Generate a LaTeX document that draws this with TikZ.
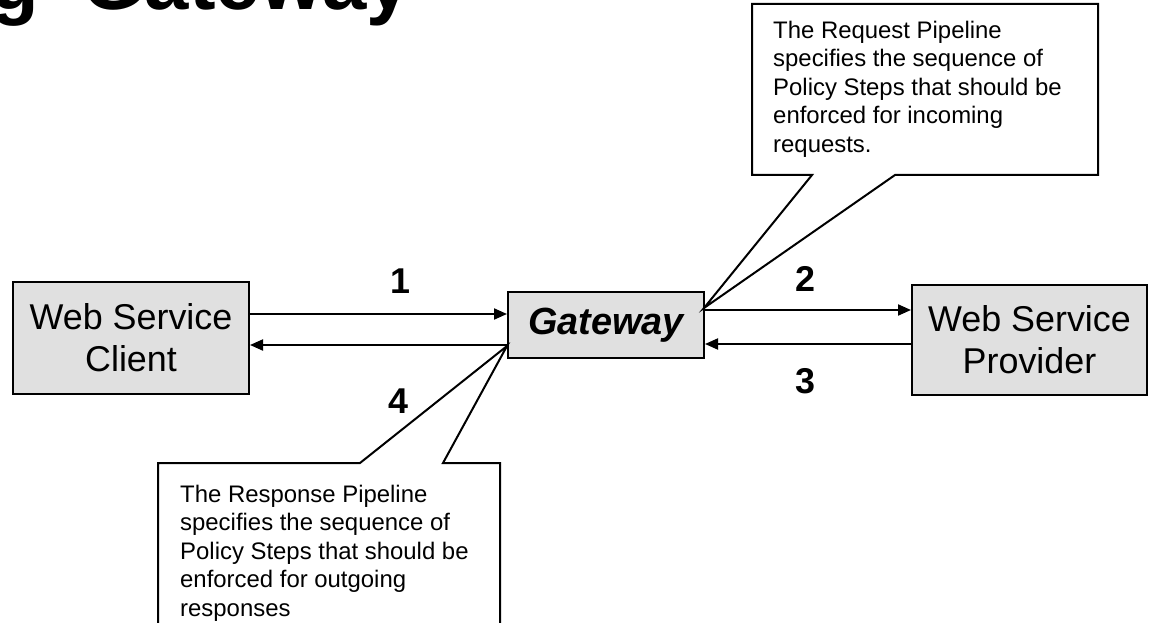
\documentclass[tikz,border=0pt]{standalone}
\usepackage{fontspec}
\setmainfont{Liberation Sans}
\usetikzlibrary{arrows.meta}
\definecolor{boxgray}{RGB}{224,224,224}
\newcommand\headingfont{\fontsize{80}{96}\selectfont\bfseries\spaceskip=44bp\relax}
\begin{document}
\begin{tikzpicture}[x=1bp,y=-1bp,
  box/.style={draw=black, line width=2bp, fill=boxgray, inner sep=0, align=center},
  boxtext/.style={font=\fontsize{36}{42}\selectfont},
  flow/.style={line width=2bp, -{Triangle[length=13bp,width=11bp]}},
  stepno/.style={font=\fontsize{36}{42}\selectfont\bfseries, inner sep=0},
  balloon/.style={draw=black, line width=2bp, fill=white, line join=miter},
  note/.style={font=\fontsize{24}{28.5}\selectfont, align=left, inner sep=0, anchor=north west}]
\useasboundingbox (0,0) rectangle (1149,623);

% heading
\node[font=\headingfont, inner sep=0, anchor=base west] (title) at (-10,10) {g Gateway};

% main boxes
\node[box, boxtext, minimum width=236bp, minimum height=112bp] (client) at (131,338) {Web Service\\Client};
\node[box, minimum width=196bp, minimum height=66bp, font=\fontsize{38}{44}\selectfont\bfseries\itshape] (gateway) at (606,325) {Gateway};
\node[box, boxtext, minimum width=235bp, minimum height=110bp] (provider) at (1029.5,340) {Web Service\\Provider};

% message flows
\coordinate (lane1) at (0,314);
\coordinate (lane4) at (0,345);
\coordinate (lane2) at (0,310);
\coordinate (lane3) at (0,344);
\draw[flow] (client.east |- lane1) -- (gateway.west |- lane1);
\draw[flow] (gateway.west |- lane4) -- (client.east |- lane4);
\draw[flow] (gateway.east |- lane2) -- (provider.west |- lane2);
\draw[flow] (provider.west |- lane3) -- (gateway.east |- lane3);

\node[stepno] (n1) at (400,281) {1};
\node[stepno] (n2) at (805,279) {2};
\node[stepno] (n3) at (805,381) {3};
\node[stepno] (n4) at (398,401) {4};

% request pipeline note
\coordinate (tipA) at (704,308);
\draw[balloon] (752,4) -- (1098,4) -- (1098,175) -- (895,175) -- (tipA) -- (812,175) -- (752,175) -- cycle;
\node[note] (reqnote) at (773,21) {The Request Pipeline\\specifies the sequence of\\Policy Steps that should be\\enforced for incoming\\requests.};

% response pipeline note
\coordinate (tipB) at (507,346);
\draw[balloon] (158,463) -- (360,463) -- (tipB) -- (443,463) -- (500,463) -- (500,640) -- (158,640) -- cycle;
\node[note] (resnote) at (180,485) {The Response Pipeline\\specifies the sequence of\\Policy Steps that should be\\enforced for outgoing\\responses};
\end{tikzpicture}
\end{document}
